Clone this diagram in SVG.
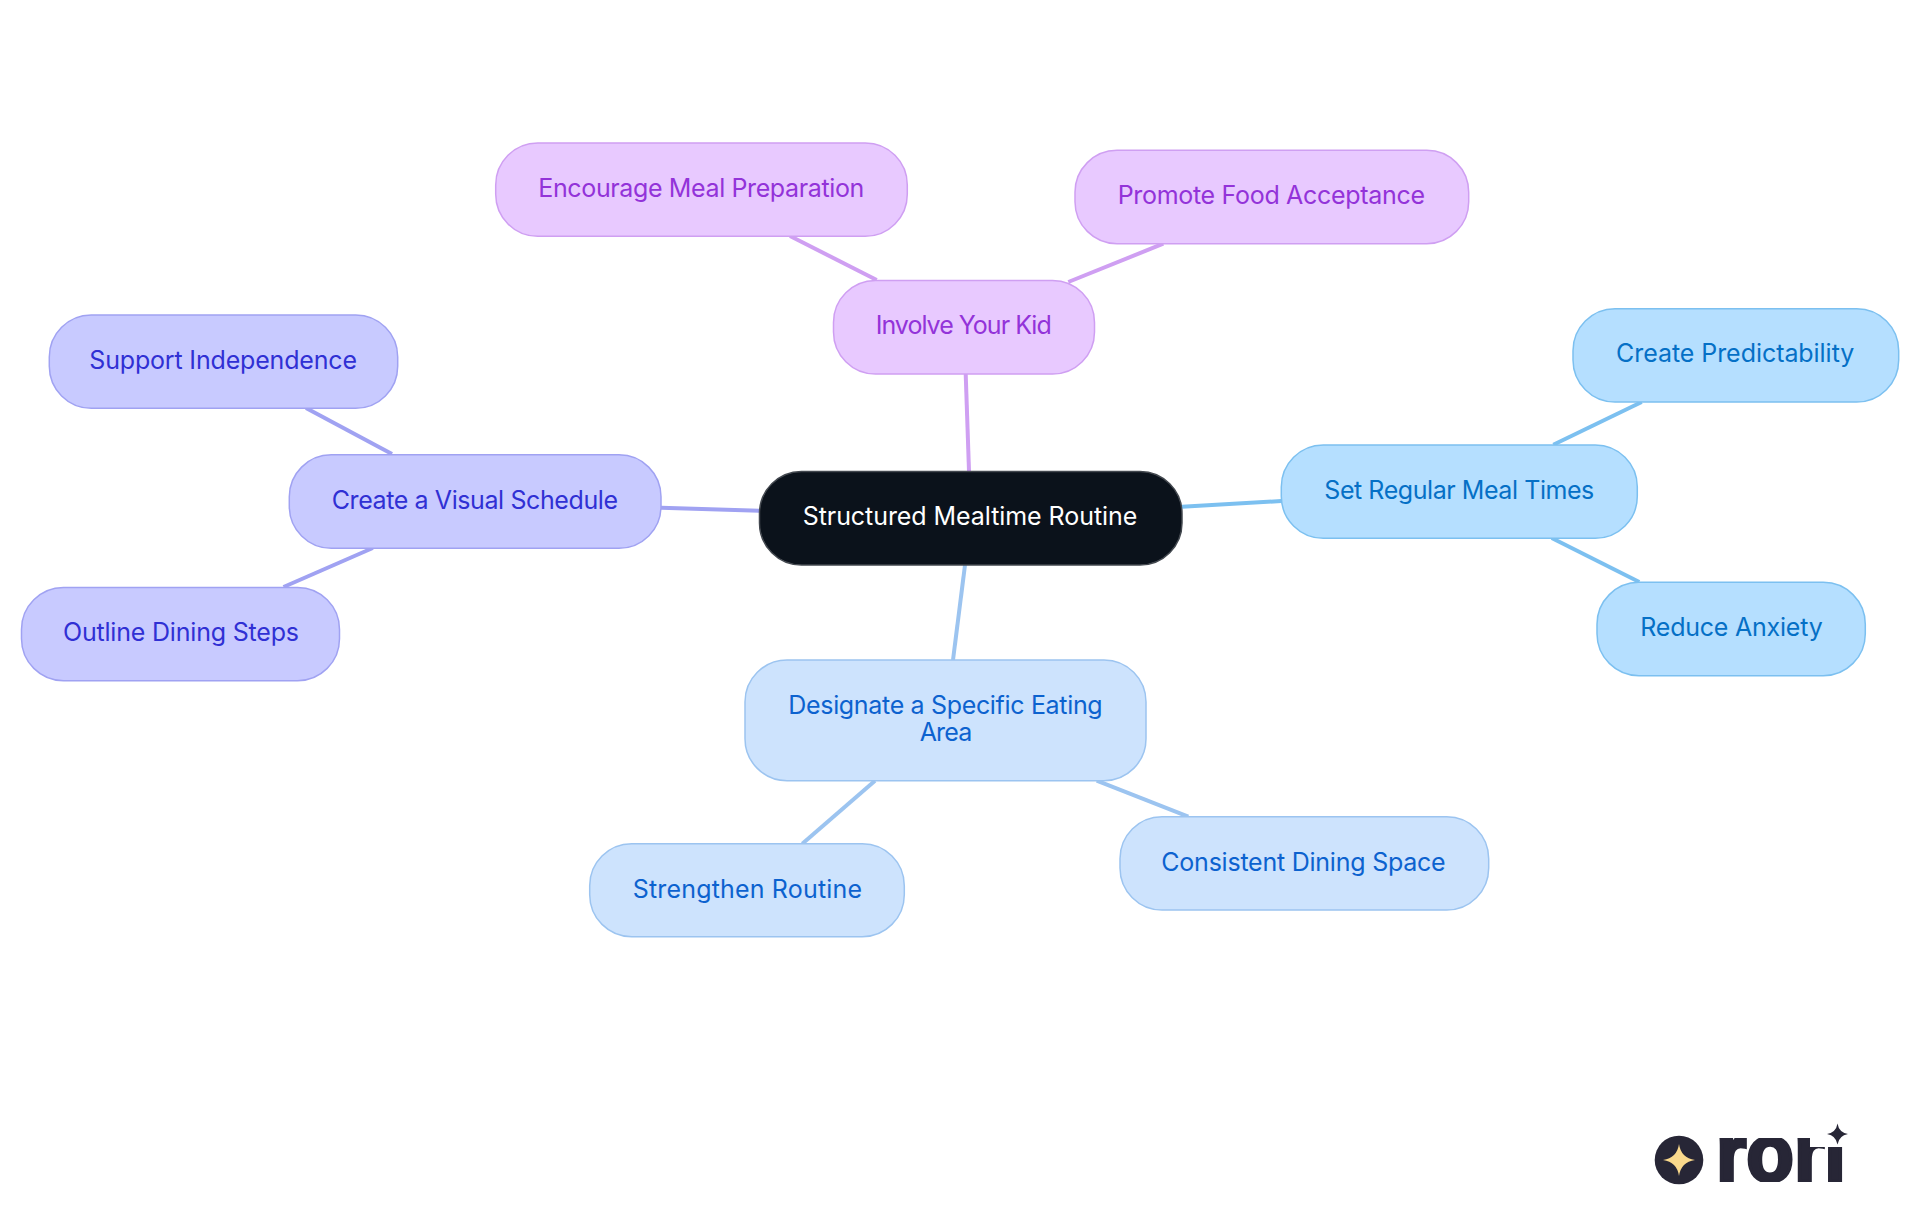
<svg xmlns="http://www.w3.org/2000/svg" width="1920" height="1215" viewBox="0 0 1920 1215">
<style>
text{font-family:"Inter","Noto Sans","Liberation Sans",sans-serif;font-size:25px;font-weight:400}
rect.n{stroke-width:1.5}
line{stroke-width:4;stroke-linecap:butt}
.root rect{fill:#0b121b;stroke:#43484f}.root text{fill:#fff}
.pur rect{fill:#e8c9ff;stroke:#cf9ff2}.pur text{fill:#9333d9}
.ind rect{fill:#c8caff;stroke:#a0a2f2}.ind text{fill:#3030d4}
.sky rect{fill:#b5dfff;stroke:#7cc0f0}.sky text{fill:#0570c6}
.blu rect{fill:#cde3fd;stroke:#9cc4f0}.blu text{fill:#0c62cf}
.lp{stroke:#cf9ff2}.li{stroke:#a0a2f2}.ls{stroke:#7cc0f0}.lb{stroke:#9cc4f0}
.logo{fill:#272636}
.logot{font-family:"Liberation Sans",sans-serif;font-size:82px;font-weight:700;fill:#272636;stroke:#272636;stroke-width:3.5}
</style>
<defs>
<clipPath id="logoclip">
<rect x="1715" y="1138" width="95" height="44"/>
<rect x="1810" y="1147" width="40" height="35"/>
</clipPath>
</defs>
<rect width="1920" height="1215" fill="#fff"/>
<g id="connectors">
<line class="lp" x1="965.7" y1="374" x2="969" y2="471"/>
<line class="ls" x1="1182" y1="506.7" x2="1281.3" y2="501"/>
<line class="lb" x1="965" y1="565" x2="953" y2="660"/>
<line class="li" x1="661" y1="507.7" x2="759.3" y2="510.7"/>
<line class="li" x1="306" y1="408" x2="392" y2="454"/>
<line class="li" x1="372.8" y1="548" x2="283.5" y2="587"/>
<line class="lp" x1="790" y1="236" x2="876.7" y2="280"/>
<line class="lp" x1="1068.3" y1="282" x2="1163.3" y2="243.7"/>
<line class="ls" x1="1553.3" y1="444.7" x2="1641.7" y2="402"/>
<line class="ls" x1="1551.7" y1="538" x2="1639.3" y2="582"/>
<line class="lb" x1="875" y1="780.7" x2="802.3" y2="843.7"/>
<line class="lb" x1="1096.7" y1="780.7" x2="1188.3" y2="816.7"/>
</g>
<g id="node-root" class="root"><rect class="n" x="759.5" y="471.5" width="422.5" height="93.5" rx="42"/><text x="802.7" y="525" textLength="334.6">Structured Mealtime Routine</text></g>
<g id="node-involve" class="pur"><rect class="n" x="833.5" y="280.5" width="261" height="93.5" rx="42"/><text x="875.7" y="334" textLength="176">Involve Your Kid</text></g>
<g id="node-encourage" class="pur"><rect class="n" x="495.7" y="143" width="411.6" height="93.3" rx="42"/><text x="538.3" y="196.7" textLength="326">Encourage Meal Preparation</text></g>
<g id="node-promote" class="pur"><rect class="n" x="1075" y="150.3" width="393.7" height="93.4" rx="42"/><text x="1117.7" y="204" textLength="307.3">Promote Food Acceptance</text></g>
<g id="node-visual" class="ind"><rect class="n" x="289.3" y="454.8" width="371.7" height="93.5" rx="42"/><text x="331.7" y="509" textLength="286.3">Create a Visual Schedule</text></g>
<g id="node-support" class="ind"><rect class="n" x="49.3" y="315" width="348.4" height="93.3" rx="42"/><text x="89.3" y="369" textLength="267.7">Support Independence</text></g>
<g id="node-outline" class="ind"><rect class="n" x="21.5" y="587.5" width="318" height="93.2" rx="42"/><text x="63" y="640.7" textLength="236">Outline Dining Steps</text></g>
<g id="node-set" class="sky"><rect class="n" x="1281.3" y="445" width="356" height="93.3" rx="42"/><text x="1324.3" y="499" textLength="270">Set Regular Meal Times</text></g>
<g id="node-predict" class="sky"><rect class="n" x="1573" y="308.7" width="325.7" height="93.3" rx="42"/><text x="1616" y="362" textLength="238.3">Create Predictability</text></g>
<g id="node-anxiety" class="sky"><rect class="n" x="1597" y="582.3" width="268.3" height="93.4" rx="42"/><text x="1640.3" y="636.3" textLength="182.4">Reduce Anxiety</text></g>
<g id="node-designate" class="blu"><rect class="n" x="745" y="660" width="401" height="120.7" rx="42"/><text x="788.3" y="714" textLength="314.4">Designate a Specific Eating</text><text x="919.7" y="741.3" textLength="52.6">Area</text></g>
<g id="node-strengthen" class="blu"><rect class="n" x="589.7" y="843.7" width="314.6" height="93" rx="42"/><text x="632.7" y="898.3" textLength="229.3">Strengthen Routine</text></g>
<g id="node-consistent" class="blu"><rect class="n" x="1120" y="816.7" width="368.7" height="93.3" rx="42"/><text x="1161.3" y="871.3" textLength="284.4">Consistent Dining Space</text></g>
<g id="logo">
<circle class="logo" cx="1679" cy="1160" r="24.3"/>
<path fill="#fad98c" d="M1679 1144 Q1681 1158 1695 1160 Q1681 1162 1679 1176 Q1677 1162 1663 1160 Q1677 1158 1679 1144Z"/>
<text class="logot" x="1716" y="1181" textLength="130" lengthAdjust="spacingAndGlyphs" clip-path="url(#logoclip)">rori</text>
<path class="logo" d="M1837.5 1123.5 Q1839 1132.5 1848 1134 Q1839 1135.5 1837.5 1144.5 Q1836 1135.5 1827 1134 Q1836 1132.5 1837.5 1123.5Z"/>
</g>
</svg>
